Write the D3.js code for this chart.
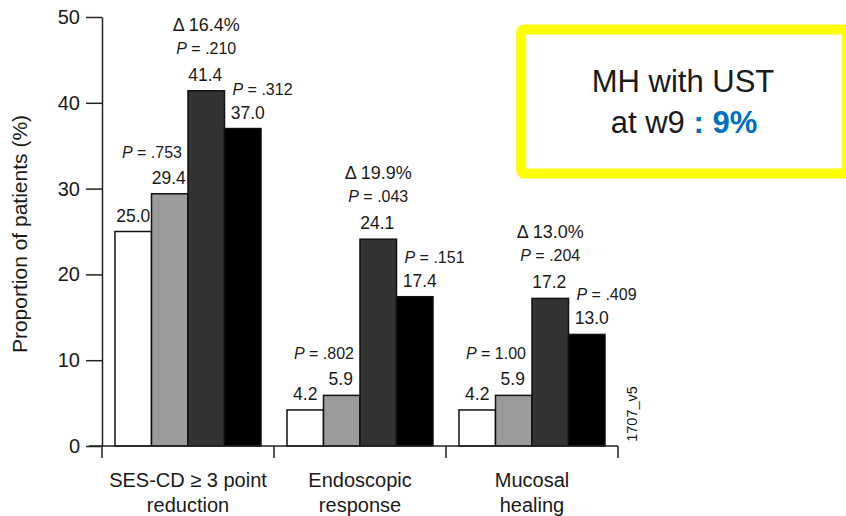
<!DOCTYPE html>
<html>
<head>
<meta charset="utf-8">
<script src="https://cdn.jsdelivr.net/npm/d3@7"></script>
<style>
  html, body { margin: 0; padding: 0; background: #fff; }
  svg { display: block; }
  text { font-family: "Liberation Sans", Arial, Helvetica, sans-serif; fill: #1a1a1a; }
</style>
</head>
<body>
<svg id="chart" width="846" height="516"></svg>
<script>
// ---- data ----
const categories = [["SES-CD \u2265 3 point", "reduction"], ["Endoscopic", "response"], ["Mucosal", "healing"]];
const seriesA = [25.0, 4.2, 4.2];   // white
const seriesB = [29.4, 5.9, 5.9];   // light grey
const seriesC = [41.4, 24.1, 17.2]; // dark grey
const seriesD = [37.0, 17.4, 13.0]; // black
const pValuesB = [".753", ".802", "1.00"];
const pValuesC = [".210", ".043", ".204"];
const pValuesD = [".312", ".151", ".409"];
const deltas = ["16.4", "19.9", "13.0"];
const yTicks = [0, 10, 20, 30, 40, 50];
const seriesNames = ["A", "B", "C", "D"];
const seriesFill = ["#ffffff", "#9b9b9b", "#333333", "#000000"];
const boxLine1 = "MH with UST";
const boxLine2a = "at w9 ";
const boxLine2b = ": 9%";
const figCode = "1707_v5";

const svg = d3.select("#chart");

const x = d3.scaleBand().domain(d3.range(categories.length)).range([102, 618]).paddingInner(0).paddingOuter(0);
const xi = d3.scaleBand().domain(seriesNames).range([0, x.bandwidth()]).paddingInner(0).paddingOuter(0.356);
const y = d3.scaleLinear().domain([0, 50]).range([446, 17]);

const allSeries = [seriesA, seriesB, seriesC, seriesD];

// y axis
const yAxis = d3.axisLeft(y).tickValues(yTicks).tickSize(16).tickSizeOuter(0).tickPadding(6);
const gy = svg.append("g").attr("transform", "translate(102,0)").call(yAxis);
gy.select(".domain").attr("stroke", "#222").attr("stroke-width", 1.5);
gy.selectAll(".tick line").attr("stroke", "#222").attr("stroke-width", 1.5);
gy.selectAll(".tick text").attr("font-size", 20).attr("fill", "#1a1a1a")
  .attr("font-family", "Liberation Sans, Arial, sans-serif");
svg.append("line").attr("x1", 102).attr("x2", 102).attr("y1", y(0)).attr("y2", 458)
  .attr("stroke", "#222").attr("stroke-width", 1.5);

// y label
svg.append("text").attr("transform", "translate(27,234) rotate(-90)")
  .attr("text-anchor", "middle").attr("font-size", 21).text("Proportion of patients (%)");

// bars
categories.forEach((c, ci) => {
  allSeries.forEach((s, si) => {
    const bx = x(ci) + xi(seriesNames[si]);
    svg.append("rect")
      .attr("x", bx).attr("y", y(s[ci]))
      .attr("width", xi.bandwidth()).attr("height", y(0) - y(s[ci]))
      .attr("fill", seriesFill[si]).attr("stroke", "#111").attr("stroke-width", 1.5);
  });
});

// x axis baseline + ticks
svg.append("line").attr("x1", 89).attr("x2", 618).attr("y1", y(0)).attr("y2", y(0))
  .attr("stroke", "#222").attr("stroke-width", 1.5);
d3.range(categories.length).forEach(ci => {
  const xe = x(ci) + x.bandwidth();
  svg.append("line").attr("x1", xe).attr("x2", xe).attr("y1", y(0)).attr("y2", 458)
    .attr("stroke", "#222").attr("stroke-width", 1.5);
});

// category labels
categories.forEach((c, ci) => {
  const t = svg.append("text").attr("text-anchor", "middle").attr("font-size", 20)
    .attr("x", x(ci) + x.bandwidth() / 2).attr("y", 487);
  c.forEach((line, li) => {
    t.append("tspan").attr("x", x(ci) + x.bandwidth() / 2).attr("dy", li === 0 ? 0 : 25).text(line);
  });
});

// value labels
const valueOffset = [0, -1, -1, 5];
categories.forEach((c, ci) => {
  allSeries.forEach((s, si) => {
    const cx = x(ci) + xi(seriesNames[si]) + xi.bandwidth() / 2 + valueOffset[si];
    svg.append("text").attr("text-anchor", "middle").attr("font-size", 17.5)
      .attr("x", cx).attr("y", y(s[ci]) - 10).text(s[ci].toFixed(1));
  });
});

function pLabel(xp, yp, anchor, val) {
  const t = svg.append("text").attr("x", xp).attr("y", yp).attr("text-anchor", anchor).attr("font-size", 16);
  t.append("tspan").attr("font-style", "italic").text("P");
  t.append("tspan").text(" = " + val);
  return t;
}

categories.forEach((c, ci) => {
  const bRight = x(ci) + xi("B") + xi.bandwidth() - 6;
  pLabel(bRight, y(seriesB[ci]) - 36, "end", pValuesB[ci]);
  const cCenter = x(ci) + xi("C") + xi.bandwidth() / 2;
  pLabel(cCenter, y(seriesC[ci]) - 37, "middle", pValuesC[ci]);
  svg.append("text").attr("x", cCenter).attr("y", y(seriesC[ci]) - 60)
    .attr("text-anchor", "middle").attr("font-size", 18).text("\u0394 " + deltas[ci] + "%");
  const dLeft = x(ci) + xi("D") + 8;
  pLabel(dLeft, y(seriesD[ci]) - 34, "start", pValuesD[ci]);
});

// figure code
svg.append("text").attr("transform", "translate(637,414) rotate(-90)")
  .attr("text-anchor", "middle").attr("font-size", 14.5).text(figCode);

// yellow box
svg.append("rect").attr("x", 521).attr("y", 29.5).attr("width", 326).attr("height", 144)
  .attr("rx", 3).attr("fill", "#fff").attr("stroke", "#ffff00").attr("stroke-width", 10);
svg.append("text").attr("x", 683).attr("y", 92).attr("text-anchor", "middle")
  .attr("font-family", "Open Sans, sans-serif").attr("font-size", 31).attr("fill", "#000").text(boxLine1);
const t2 = svg.append("text").attr("x", 684).attr("y", 133).attr("text-anchor", "middle")
  .attr("font-family", "Open Sans, sans-serif").attr("font-size", 31).attr("fill", "#000");
t2.append("tspan").text(boxLine2a);
t2.append("tspan").attr("font-weight", "bold").attr("fill", "#0070c0").text(boxLine2b);
</script>
</body>
</html>
